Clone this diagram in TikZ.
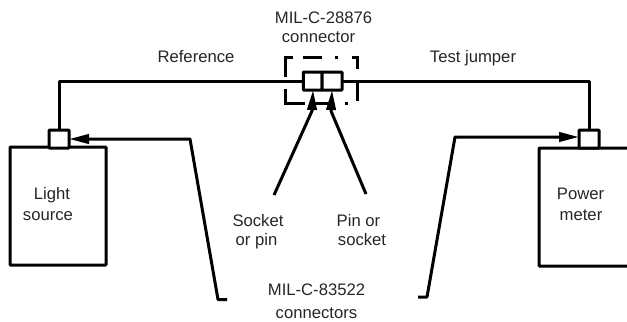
\documentclass[tikz,border=0pt]{standalone}
\usepackage{fontspec}
\setmainfont{Liberation Sans}
\usetikzlibrary{arrows.meta}

\begin{document}
\begin{tikzpicture}[
    x=0.75pt, y=-0.75pt,
    unit/.style={draw, rectangle, line width=2.25pt, rounded corners=0.5pt, inner sep=0pt, outer sep=0pt},
    plug/.style={unit, fill=white},
    fibre/.style={line width=2.25pt, line join=round},
    pointer/.style={fibre, -{Triangle[length=15pt,width=7pt]}},
    label/.style={font=\fontsize{12.5pt}{14pt}\selectfont, anchor=base, inner sep=0pt, text=black!85},
]
\useasboundingbox (0,0) rectangle (627,321);

% Instruments
\node[unit, minimum width=72pt, minimum height=88.5pt, anchor=north west] (source) at (10,147) {};
\node[unit, minimum width=120pt, minimum height=88.5pt, anchor=north west] (meter) at (539,148) {};

% Fibres
\node[plug, minimum width=15pt, minimum height=13.5pt] (plugL) at (59,139) {};
\node[plug, minimum width=15pt, minimum height=13.5pt] (plugR) at (589,139) {};
\node[plug, minimum width=14pt, minimum height=13.5pt, anchor=east] (socket) at (322,81) {};
\node[plug, minimum width=15pt, minimum height=13.5pt, anchor=west] (pin) at (322,81) {};
\draw[fibre] (plugL.north) |- (socket.west);
\draw[fibre] (plugR.north) |- (pin.east);

% Dash-dot outline
\draw[line width=2.25pt, dash pattern=on 19.5pt off 7.5pt on 14pt off 10pt on 2pt off 11pt on 12pt off 10pt on 14pt off 8pt on 2pt off 9pt on 14pt off 7.5pt on 25pt off 9pt]
    (285,76) -- (285,58) -- (357,58) -- (357,103) -- (285,103) -- cycle;

% Pointers
\coordinate (tailS) at (274,195);
\coordinate (tailP) at (366,194);
\coordinate (kneeS) at (312,111);
\coordinate (kneeP) at (331,111);
\coordinate (tipS) at (313,90);
\coordinate (tipP) at (332,90);
\draw[pointer] (tailS) -- (kneeS) -- (tipS);
\draw[pointer] (tailP) -- (kneeP) -- (tipP);

% Labels
\node[label] (title1) at (323.5,24) {MIL-C-28876};
\node[label] (title2) at (318.5,43) {connector};
\node[label] (reference) at (196,63) {Reference};
\node[label] (jumper) at (473,63) {Test jumper};
\node[label] (light) at (52,199) {Light};
\node[label] (sourcetext) at (48,220) {source};
\node[label] (power) at (580.5,199) {Power};
\node[label] (metertext) at (581,220) {meter};
\node[label] (socket1) at (258,226) {Socket};
\node[label] (socket2) at (256.5,245) {or pin};
\node[label] (pin1) at (358.5,226) {Pin or};
\node[label] (pin2) at (362,245) {socket};
\node[label] (lower1) at (316.5,295) {MIL-C-83522};
\node[label] (lower2) at (316.5,318) {connectors};

% Leaders
\coordinate (bendL) at (190,139);
\coordinate (footL) at (218,299.5);
\coordinate (endL) at (227,299.5);
\coordinate (bendR) at (455,137);
\coordinate (footR) at (427,297);
\coordinate (endR) at (418,297);
\draw[pointer] (endL) -- (footL) -- (bendL) -- (plugL.east);
\draw[pointer] (endR) -- (footR) -- (bendR) -- (plugR.west |- bendR);
\end{tikzpicture}
\end{document}
